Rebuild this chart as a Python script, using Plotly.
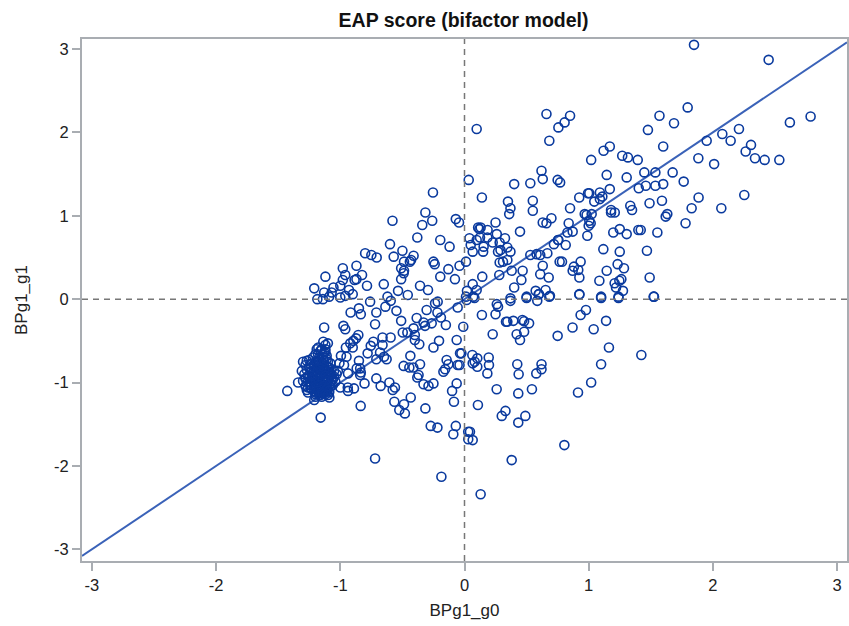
import plotly.graph_objects as go

# Upper-left / centre-top region, then upper-right, then lower-left, cluster, lower-right
top_g0 = [.098,.66,.756,.683,.034,-.254,.14,.40,.53,.62,.63,.75,.77,.35,.37,.36,.55,.55,.63,.66,.70,-.315,-.34,-.26,-.58,-.07,-.044,-.38,-.195,-.12,.25,.447,.11,.13,.12,.186,.04,.098,.125,.184,.05,.26,.326,.283,.227,.154,.066,.15,.345,.27,.29,.37,.283,.31,.345,.53,.58,.61,.667,.72,.756,.766,.012,-.04,-.13,-.195,-.077,-.25,-.24,-.41,-.43,-.44,-.487,-.50,-.57,-.60,-.707,-.75,-.80,-.87,-.98,-.96,-1.12,-.825,-.87,-.885,-.98,-1.0,-1.055,-.93,-1.21,-1.13,-1.07,-.785,-.65,-.535,-.457,-.358,-.294,-.62,-.51,-.487,-.49,-.51,.066,.143,.28,.38,.468,.63,.61,.678,.458,.40,.573,.60,.653,.688,.50,.37,.02,.098,.012,.07,-1.0,-1.09,-.96,-1.14,-.90]
top_g1 = [2.04,2.22,2.06,1.90,1.43,1.28,1.22,1.38,1.39,1.54,1.44,1.43,1.40,1.17,1.09,1.02,1.18,1.06,.92,.91,.97,1.04,.89,.94,.94,.96,.92,.74,.71,.63,.92,.81,.86,.86,.84,.83,.73,.71,.74,.74,.65,.78,.73,.68,.68,.63,.57,.57,.62,.57,.59,.57,.44,.45,.47,.53,.54,.53,.55,.66,.71,.45,.45,.40,.36,.27,.24,.45,.42,.52,.47,.45,.45,.58,.51,.66,.50,.53,.55,.40,.37,.29,.27,.29,.24,.23,.23,.16,.14,.11,.13,.08,.08,.16,.18,.10,.05,.16,.11,.03,.37,.34,.31,.24,.18,.27,.29,.34,.34,.40,.30,.26,.23,.14,.10,.06,.11,.04,.03,.01,.10,.11,.03,.03,.02,.03,.04,.0,.06]

right_g0 = [1.848,2.449,2.787,2.62,1.797,1.57,1.687,1.477,.85,.806,1.60,1.17,1.12,1.02,1.27,1.316,1.395,2.21,2.076,1.95,2.143,2.307,2.264,2.339,2.417,2.535,1.883,2.01,1.765,1.676,1.537,1.448,1.306,1.145,1.60,1.537,1.46,1.403,1.17,1.09,1.11,1.09,1.045,1.005,.995,.924,.85,1.59,1.49,1.335,1.349,1.18,1.21,1.18,1.885,1.829,2.068,2.253,1.633,1.62,1.78,1.553,1.419,1.40,1.306,1.25,1.198,.968,.983,1.024,1.005,1.016,1.0,.839,.871,.829,.989,.753,.815,1.118,1.25,1.469,.785,.935,.881,.916,.871,.925,1.086,1.145,1.233,1.284,1.491,1.263,1.247,1.209,1.22,1.276,.925,1.10,1.24,1.526]
right_g1 = [3.05,2.87,2.19,2.12,2.30,2.20,2.11,2.03,2.20,2.12,1.83,1.83,1.78,1.67,1.72,1.70,1.67,2.04,1.98,1.90,1.90,1.85,1.77,1.69,1.67,1.67,1.69,1.62,1.41,1.52,1.52,1.52,1.46,1.49,1.38,1.36,1.36,1.33,1.32,1.28,1.23,1.20,1.17,1.27,1.27,1.22,1.09,1.18,1.15,1.12,1.07,1.07,1.04,1.04,1.22,1.09,1.09,1.25,1.02,.99,.91,.80,.83,.83,.78,.84,.80,1.02,1.01,1.02,.94,.91,.88,.91,.81,.80,.76,.71,.65,.60,.57,.58,.45,.45,.39,.35,.34,.26,.22,.34,.42,.37,.26,.24,.22,.19,.14,.10,.06,.03,.03,.03]

lowleft_g0 = [-1.185,-.917,-.85,-.835,-.76,-.71,-.637,-.594,-.548,-.51,-.72,-1.13,-.975,-.96,-.855,-.873,-.895,-.92,-.90,-.955,-.734,-.755,-.78,-.66,-.595,-.66,-.68,-.648,-.627,-.71,-.497,-.46,-.41,-.385,-.305,-.237,-.216,-.218,-.19,-.264,-.33,-.318,-.15,-.055,.017,-.01,-.40,-.40,-.364,-.205,-.25,-.063,-.036,-.436,-.358,-.49,-.444,-.412,-.37,-.38,-.33,-.29,-.25,-.144,-.13,-.156,-.17,-.055,-.063,-.10,-.085,-.71,-.675,-.605,-.578,-.56,-.433,-.565,-.487,-.525,-.48,-.315,-.272,-.218,-.07,-.09,.03,.03,-.72,-.186,-.836,-1.158,-1.427,-1.21,-1.088,-1.34,-1.31,-1.0,-.94,-.938,-.89,-.805,-.84,-.835,-.938,-.84,-.868,-.85,-1.02,-1.007,-.97,-.95,-.995]
lowleft_g1 = [.0,-.16,-.11,-.18,-.03,-.16,-.09,-.02,-.14,-.26,-.30,-.34,-.32,-.36,-.43,-.47,-.50,-.53,-.58,-.58,-.51,-.56,-.65,-.46,-.46,-.55,-.64,-.69,-.72,-.72,-.40,-.40,-.35,-.225,-.13,-.05,-.03,-.16,-.22,-.29,-.28,-.32,-.31,-.10,-.01,-.33,-.43,-.49,-.54,-.50,-.58,-.49,-.65,-.68,-.78,-.80,-.82,-.82,-.91,-.94,-1.02,-1.04,-1.01,-.73,-.78,-.84,-.87,-.79,-1.01,-1.10,-1.23,-.95,-1.04,-1.00,-1.09,-1.06,-1.18,-1.23,-1.26,-1.33,-1.37,-1.31,-1.52,-1.54,-1.52,-1.62,-1.59,-1.68,-1.91,-2.13,-1.28,-1.42,-1.10,-1.21,-1.18,-1.00,-.86,-1.06,-1.06,-1.10,-1.07,-1.01,-.91,-.88,-.89,-.83,-.83,-.74,-.86,-.77,-.79,-.69,-.68]

cluster_g0 = [-1.30,-1.27,-1.25,-1.28,-1.24,-1.27,-1.24,-1.29,-1.26,-1.22,-1.30,-1.26,-1.23,-1.28,-1.24,-1.27,-1.23,-1.20,-1.20,-1.19,-1.19,-1.20,-1.20,-1.17,-1.17,-1.16,-1.16,-1.17,-1.16,-1.16,-1.17,-1.14,-1.14,-1.13,-1.13,-1.13,-1.14,-1.13,-1.11,-1.10,-1.10,-1.10,-1.10,-1.11,-1.11,-1.09,-1.08,-1.07,-1.07,-1.07,-1.08,-1.06,-1.05,-1.05,-1.18,-1.21,-1.22,-1.15,-1.19,-1.12,-1.04,-1.03,-1.15,-1.20,-1.26,-1.137,-1.10,-1.177,-1.12]
cluster_g1 = [-.75,-.74,-.73,-.79,-.78,-.85,-.83,-.90,-.92,-.88,-.98,-.99,-.96,-1.04,-1.03,-1.09,-1.08,-1.12,-1.02,-.93,-.83,-.75,-.66,-.70,-.78,-.85,-.92,-.98,-1.05,-1.11,-1.15,-1.08,-1.00,-.94,-.87,-.80,-.72,-.64,-.68,-.75,-.82,-.89,-.96,-1.03,-1.10,-1.12,-1.05,-.98,-.91,-.84,-.77,-1.03,-.93,-.86,-1.00,-.97,-.70,-.60,-.60,-.55,-.99,-.90,-1.17,-1.17,-1.12,-.51,-.53,-.58,-.60]

core_g0 = [-1.21,-1.19,-1.17,-1.15,-1.13,-1.11,-1.09,-1.21,-1.19,-1.17,-1.15,-1.13,-1.11,-1.09,-1.22,-1.20,-1.18,-1.16,-1.14,-1.12,-1.10,-1.08,-1.22,-1.20,-1.18,-1.16,-1.14,-1.12,-1.10,-1.08,-1.21,-1.19,-1.17,-1.15,-1.13,-1.11,-1.09,-1.21,-1.19,-1.17,-1.15,-1.13,-1.11,-1.09,-1.20,-1.18,-1.16,-1.14,-1.12,-1.10,-1.19,-1.17,-1.15,-1.13,-1.11,-1.25,-1.23,-1.25,-1.23,-1.24,-1.24,-1.06,-1.18,-1.14,-1.16,-1.12,-1.28,-1.26]
core_g1 = [-.81,-.80,-.82,-.79,-.83,-.80,-.82,-.86,-.88,-.84,-.89,-.85,-.87,-.88,-.93,-.90,-.94,-.91,-.95,-.92,-.94,-.91,-.97,-1.00,-.96,-1.01,-.97,-1.00,-.98,-1.01,-1.04,-1.06,-1.03,-1.07,-1.04,-1.06,-1.03,-1.10,-1.08,-1.12,-1.09,-1.12,-1.08,-1.10,-1.14,-1.10,-1.15,-1.13,-1.14,-1.15,-.74,-.73,-.76,-.74,-.72,-.82,-.86,-.94,-.92,-1.00,-1.06,-.96,-.66,-.67,-.62,-.63,-.95,-1.06]

lowright_g0 = [1.523,1.24,1.10,.925,.683,.586,.597,.50,.37,.08,.26,.27,.14,.25,.978,.935,.87,1.14,1.04,.75,.334,.345,.393,.466,.48,.52,.227,.42,.48,.447,1.163,1.424,1.10,1.02,.914,.063,.103,.082,.066,.103,.195,.197,.184,.425,.436,.62,.62,.578,.259,.433,.543,.108,.33,.30,.49,.433,.044,.066,.804,.38,.13,-.025,-.04]
lowright_g1 = [.03,.015,.015,.055,.03,-.02,.06,.015,-.02,.015,-.06,-.09,-.19,-.18,-.13,-.19,-.34,-.26,-.36,-.44,-.27,-.27,-.26,-.25,-.265,-.29,-.42,-.42,-.39,-.49,-.58,-.67,-.78,-1.0,-1.12,-.67,-.71,-.75,-.77,-.81,-.70,-.79,-.89,-.78,-.90,-.78,-.84,-.89,-1.08,-1.13,-1.08,-1.27,-1.34,-1.40,-1.40,-1.48,-1.59,-1.69,-1.75,-1.93,-2.34,-.65,-.79]

bp_g0 = top_g0 + right_g0 + lowleft_g0 + cluster_g0 + core_g0 + lowright_g0
bp_g1 = top_g1 + right_g1 + lowleft_g1 + cluster_g1 + core_g1 + lowright_g1

x_range = [-3.08, 3.08]
y_range = [-3.14, 3.12]
tick_vals = [-3, -2, -1, 0, 1, 2, 3]
tick_text = ["-3", "-2", "-1", "0", "1", "2", "3"]
FRAME = "#a9adb2"
font = "Liberation Sans"

fig = go.Figure()
fig.add_trace(go.Scatter(x=x_range, y=x_range, mode="lines",
                         line=dict(color="#3a62b8", width=2), hoverinfo="skip"))
fig.add_trace(go.Scatter(x=bp_g0, y=bp_g1, mode="markers",
                         marker=dict(symbol="circle-open", size=9,
                                     color="#0a3a9e", line=dict(width=1.6, color="#0a3a9e"))))
fig.add_hline(y=0, line=dict(color="#777777", width=1.5, dash="6px,5px"))
fig.add_vline(x=0, line=dict(color="#777777", width=1.5, dash="6px,5px"))

axis = dict(tickmode="array", tickvals=tick_vals, ticktext=tick_text,
            showgrid=False, zeroline=False, showline=True, mirror=True,
            linecolor=FRAME, linewidth=2, ticks="outside", ticklen=8, tickwidth=1.5,
            tickcolor=FRAME, tickfont=dict(family=font, size=16.5, color="#222222"),
            title_font=dict(family=font, size=17, color="#222222"))
fig.update_xaxes(range=x_range, title_text="BPg1_g0", title_standoff=11, **axis)
fig.update_yaxes(range=y_range, title_text="BPg1_g1", title_standoff=22, **axis)
fig.update_layout(
    width=849, height=626, showlegend=False,
    paper_bgcolor="white", plot_bgcolor="white",
    margin=dict(l=82, r=2, t=39, b=65, autoexpand=False),
    title=dict(text="<b>EAP score (bifactor model)</b>", x=0.546, xanchor="center",
               y=0.968, yanchor="middle",
               font=dict(family=font, size=19.5, color="#111111")),
)
fig.write_html("out.html", post_script="document.body.style.margin='0';",
               config={"displayModeBar": False})
